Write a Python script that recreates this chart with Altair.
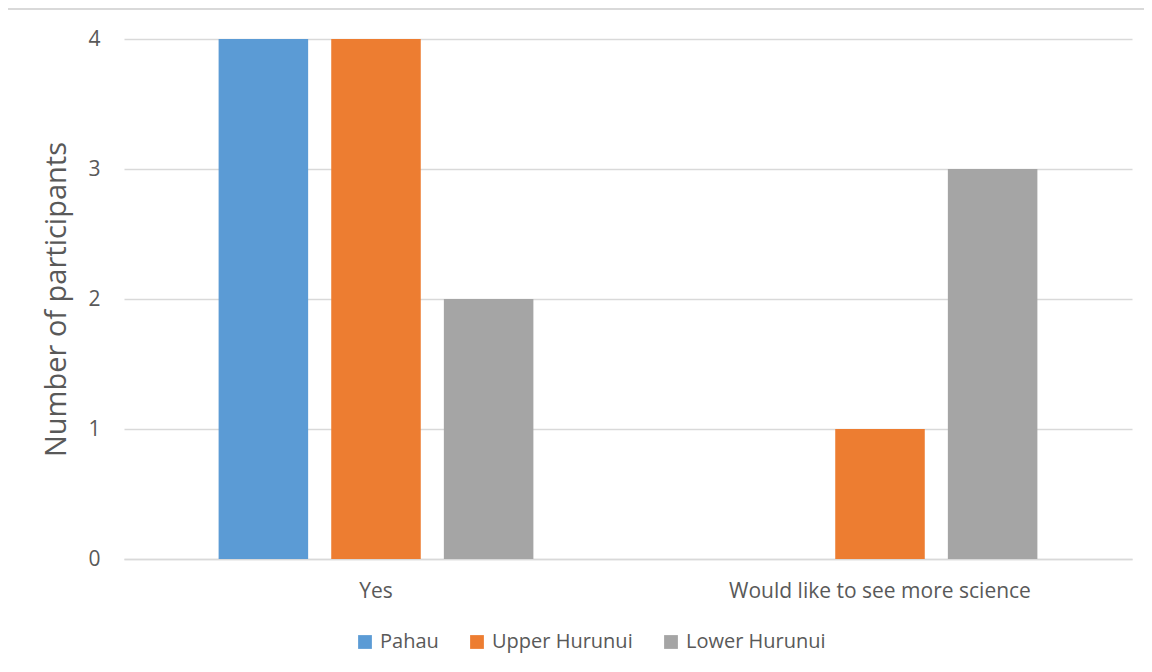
import altair as alt
import pandas as pd

categories = ["Yes", "Would like to see more science"]
series = ["Pahau", "Upper Hurunui", "Lower Hurunui"]
pahau = [4, 0]
upper_hurunui = [4, 1]
lower_hurunui = [2, 3]
colors = ["#5B9BD5", "#ED7D31", "#A5A5A5"]

rows = []
for name, vals in zip(series, [pahau, upper_hurunui, lower_hurunui]):
    for c, v in zip(categories, vals):
        rows.append({"Category": c, "Series": name, "Value": v})
df = pd.DataFrame(rows)

font = "Open Sans"
txt = "#595959"

bars = alt.Chart(df).mark_bar().encode(
    x=alt.X("Category:N", sort=categories,
            scale=alt.Scale(paddingInner=0, paddingOuter=0),
            axis=alt.Axis(title=None, labelAngle=0, labelFontSize=21, labelColor=txt,
                          labelFont=font, labelPadding=21, labelLimit=0, ticks=False,
                          domainColor="#D9D9D9", domainWidth=1.5)),
    xOffset=alt.XOffset("Series:N", sort=series,
                        scale=alt.Scale(paddingInner=0.205, paddingOuter=0.84)),
    y=alt.Y("Value:Q", scale=alt.Scale(domain=[0, 4]),
            axis=alt.Axis(title="Number of participants", values=[0, 1, 2, 3, 4],
                          format="d", labelFontSize=21, labelColor=txt, labelFont=font,
                          labelPadding=24, ticks=False, domain=False,
                          gridColor="#D9D9D9", gridWidth=1.5,
                          titleFontSize=29, titleFont=font, titleColor=txt,
                          titleFontWeight="normal", titlePadding=16)),
    color=alt.Color("Series:N", sort=series,
                    scale=alt.Scale(domain=series, range=colors),
                    legend=alt.Legend(title=None, orient="none", direction="horizontal",
                                      legendX=231, legendY=593,
                                      symbolType="square", symbolSize=190,
                                      symbolStrokeWidth=0, labelFontSize=20,
                                      labelFont=font, labelColor=txt,
                                      columnPadding=28, labelOffset=5)),
)

frame = alt.Chart(df).mark_rect(fill=None, stroke="#D9D9D9", strokeWidth=1.5).encode(
    x=alt.value(-117), x2=alt.value(1060), y=alt.value(-30), y2=alt.value(700)
)

chart = alt.layer(frame, bars).properties(
    width=1008, height=520,
    autosize=alt.AutoSizeParams(type="none"),
    padding={"left": 116, "top": 31, "right": 12, "bottom": 105},
).configure_view(stroke=None)

chart.save("out.html", embed_options={"renderer": "svg", "actions": False})
